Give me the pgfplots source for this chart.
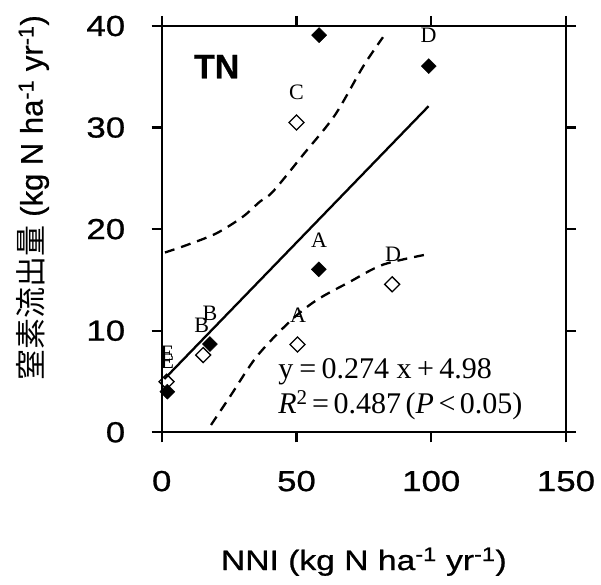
\documentclass[border=0pt]{standalone}
\usepackage{fontspec}
\setmainfont{Liberation Sans}[FakeBold=0.6]
\newfontfamily\tickfont{Liberation Sans}[FakeStretch=1.2, FakeBold=0.8]
\newfontfamily\serf{Liberation Serif}
\newfontfamily\cjk{Noto Sans CJK JP}
\usepackage{pgfplots}
\pgfplotsset{compat=1.18}

% filled = closed diamonds, open = open diamonds
\pgfplotstableread{
x y
58.4 39.1
99.1 36.05
58.3 16.04
17.9 8.69
2.1 4.0
}\filled
\pgfplotstableread{
x y
50.0 30.5
85.5 14.57
50.4 8.64
15.4 7.6
1.8 4.98
}\open

\begin{document}
\begin{tikzpicture}
\begin{axis}[
  scale only axis, width=404bp, height=406bp,
  xmin=0, xmax=150, ymin=0, ymax=40,
  xtick={0,50,100,150}, ytick={0,10,20,30,40},
  tick align=outside, major tick length=10bp,
  axis line style={line width=2.3bp},
  every tick/.style={black, line width=2.3bp},
  tick label style={font=\tickfont\fontsize{29bp}{30bp}\selectfont},
  xticklabel style={yshift=-25bp},
  yticklabel style={anchor=east, xshift=-23bp},
  /pgf/number format/assume math mode=true,
  xlabel={NNI (kg N ha\textsuperscript{-1} yr\textsuperscript{-1})},
  xlabel style={font=\tickfont\fontsize{28bp}{30bp}\selectfont, at={(rel axis cs:0.5,-0.339)}, anchor=base},
  ylabel={{\cjk 窒素流出量} (kg N ha\textsuperscript{-1} yr\textsuperscript{-1})},
  ylabel style={font=\fontsize{31bp}{34bp}\selectfont, at={(rel axis cs:-0.319,0.577)}, anchor=center},
  clip mode=individual,
]
  % regression line
  \addplot[black, line width=2.3bp] coordinates {(1,5.25) (99,32.1)};
  % confidence band
  \addplot[black, line width=2.3bp, dash pattern=on 10bp off 7bp, smooth] coordinates {
    (1.2,17.7) (10,18.5) (20.4,19.6) (30,21.2) (36.4,22.7) (41.3,23.7) (52.4,27.3) (64.2,31.2) (74.7,36.0) (82.1,38.9)};
  \addplot[black, line width=2.3bp, dash pattern=on 10bp off 7bp, smooth] coordinates {
    (18.3,0.72) (25.3,3.5) (35.2,7.44) (47.5,10.9) (57.4,13.0) (69.7,14.8) (82.1,16.5) (99.1,17.55)};
  % points
  \addplot[only marks, mark=square*, mark size=5.3bp, mark options={rotate=45, fill=black, draw=black}] table {\filled};
  \addplot[only marks, mark=square, mark size=5.3bp, mark options={rotate=45, fill=white, draw=black, line width=1.3bp}] table {\open};
  % point labels
  \begin{scope}[every node/.style={font=\serf\fontsize{22bp}{22bp}\selectfont, inner sep=0pt}]
    \node at (axis cs:99.0,39.05) {D};
    \node at (axis cs:50.0,33.5) {C};
    \node at (axis cs:58.4,18.9) {A};
    \node at (axis cs:85.8,17.55) {D};
    \node at (axis cs:50.6,11.48) {A};
    \node at (axis cs:17.9,11.7) {B};
    \node at (axis cs:14.8,10.56) {B};
    \node at (axis cs:2.1,7.78) {E};
    \node at (axis cs:2.1,6.95) {E};
  \end{scope}
  \node[font=\bfseries\fontsize{34bp}{36bp}\selectfont, inner sep=0pt] at (axis cs:20.4,36.0) {TN};
  \node[font=\serf\fontsize{30bp}{30bp}\selectfont, anchor=base west, inner sep=0pt] at (axis cs:43.2,5.31)
    {y\hspace{0.2em}=\hspace{0.18em}0.274\hspace{0.25em}x\hspace{0.18em}+\hspace{0.18em}4.98};
  \node[font=\serf\fontsize{30bp}{30bp}\selectfont, anchor=base west, inner sep=0pt] at (axis cs:43.2,1.87)
    {\textit{R}\textsuperscript{2}\hspace{0.15em}=\hspace{0.15em}0.487\hspace{0.15em}(\textit{P}\hspace{0.15em}<\hspace{0.15em}0.05)};
  \coordinate (bbA) at (rel axis cs:-0.4,-0.3758);
  \coordinate (bbB) at (rel axis cs:1.0866,1.064);
\end{axis}
\pgfresetboundingbox
\useasboundingbox (bbA) rectangle (bbB);
\end{tikzpicture}
\end{document}
